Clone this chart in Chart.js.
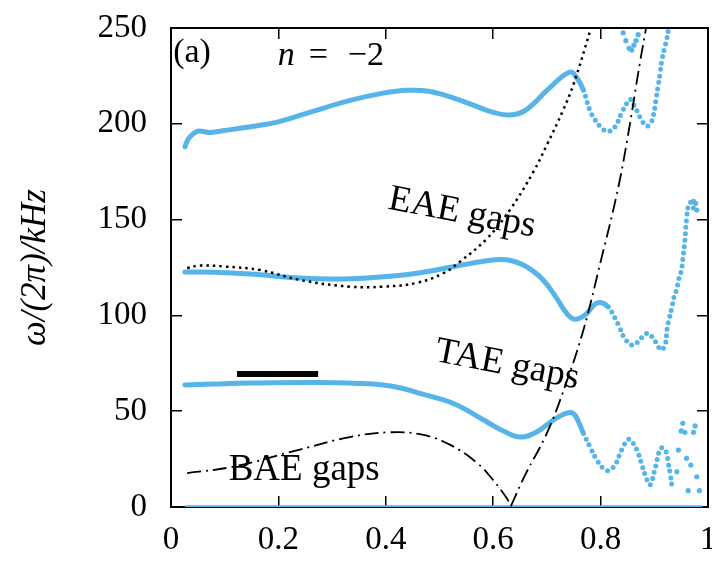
<!DOCTYPE html>
<html>
<head>
<meta charset="utf-8">
<script src="https://cdn.jsdelivr.net/npm/chart.js@4.4.1/dist/chart.umd.min.js"></script>
<style>
  html, body { margin: 0; padding: 0; background: #fff; }
  #wrap { width: 712px; height: 563px; }
</style>
</head>
<body>
<div id="wrap"><canvas id="chart" width="712" height="563"></canvas></div>
<script>
// axis ranges / ticks
const xTicks = [0, 0.2, 0.4, 0.6, 0.8, 1];
const yTicks = [0, 50, 100, 150, 200, 250];

// blue branches, [r, f(kHz)]
const upperBranch = [[0.026,188],[0.033,192.5],[0.048,196],[0.06,196],[0.073,195.5],[0.1,196.5],[0.16,199],[0.2,201],
  [0.27,207],[0.33,212],[0.395,216],[0.44,217.5],[0.48,217],[0.52,214],[0.57,209],[0.60,206],[0.631,204.6],[0.66,207],
  [0.706,219],[0.743,227],[0.758,223],[0.768,217.6],[0.78,207],[0.79,202],[0.802,197.8],[0.814,196],[0.827,198.5],
  [0.839,205.6],[0.849,210.8],[0.855,212.8],[0.862,209.8],[0.870,205.5],[0.876,202],[0.886,198.8],[0.892,200],
  [0.897,202.8],[0.903,212.4],[0.907,219.7],[0.911,226.7],[0.914,233],[0.919,239.4],[0.923,244],[0.927,250],[0.93,254]];
const upperTopDots = [[0.842,247.5],[0.847,243.4],[0.853,239.4],[0.858,238.5],[0.862,241],[0.866,243.4],[0.870,246.5]];

const middleBranch = [[0.026,122.6],[0.08,122.5],[0.147,121.6],[0.24,119.5],[0.30,119],[0.365,119.5],[0.458,122],
  [0.526,125.4],[0.588,128.5],[0.625,129],[0.662,125.4],[0.693,118.5],[0.718,109],[0.737,101],[0.752,98],[0.771,100.2],
  [0.79,106],[0.802,106.6],[0.814,104.5],[0.827,98.5],[0.836,93.3],[0.845,88],[0.858,84.5],[0.870,86.3],[0.881,89.8],
  [0.889,90.6],[0.898,88],[0.906,84.5],[0.912,82],[0.920,84.5],[0.924,93.3],[0.928,98.5],[0.933,104.5],[0.937,109.8],
  [0.942,114],[0.945,118.5],[0.950,122.8],[0.953,129],[0.957,139.4],[0.960,150],[0.964,158],[0.968,159],[0.973,156],[0.978,153]];
const middleTopDots = [[0.973,159.5],[0.977,158.5],[0.979,155]];

const lowerBranch = [[0.026,63.7],[0.08,64.2],[0.147,64.7],[0.27,65],[0.35,64.5],[0.395,63.7],[0.43,62],[0.464,59.3],
  [0.526,54],[0.588,44.5],[0.62,39.5],[0.65,36.5],[0.68,39],[0.712,45.4],[0.737,49],[0.749,48.9],[0.758,45],[0.768,38.5],
  [0.780,31.5],[0.793,24.5],[0.805,20.2],[0.814,19],[0.827,22],[0.839,29.7],[0.852,35.3],[0.861,33.2],[0.870,28],[0.878,21],
  [0.883,16.7],[0.888,13.2],[0.892,11.5],[0.896,14],[0.900,18.4],[0.904,22.8],[0.907,27],[0.912,30.6],[0.917,30.6],
  [0.923,28],[0.926,23],[0.930,16.7],[0.934,10.3],[0.939,9.7]];
const lowerDots = [[0.942,18.4],[0.945,29.7],[0.950,39.7],[0.953,43.7],[0.957,39],[0.960,25.4],[0.963,8.5],
  [0.968,21.9],[0.973,39],[0.976,42.3],[0.979,15.8],[0.984,8.5]];

const zeroBranch = [[0.026,0],[0.99,0]];

// gap boundaries
const eaeBoundary = [[0.03,124.7],[0.054,126],[0.1,125.5],[0.166,123.7],[0.24,118.5],[0.333,115],[0.395,115],
  [0.458,117],[0.507,122],[0.538,128],[0.588,140],[0.631,155],[0.675,175],[0.70,189],[0.73,207],[0.75,221],[0.78,248],[0.785,253]];
const baeBoundary = [[0.03,17.7],[0.115,21],[0.24,30],[0.333,36.5],[0.408,39],[0.47,37.6],[0.52,32.4],[0.57,23],
  [0.60,14],[0.625,4.7],[0.633,0.5]];
const taeBoundary = [[0.633,0.5],[0.66,17],[0.70,38.5],[0.735,64],[0.768,92.4],[0.80,128],[0.83,163],[0.849,190.7],
  [0.873,231.5],[0.886,252]];

const markerBar = [[0.123,69.4],[0.274,69.4]];

const BLUE = '#56b4e9';
const SERIF = '"Liberation Serif", "DejaVu Serif", serif';

const pts = arr => arr.map(p => ({x: p[0], y: p[1]}));

function blueLine(arr, dotFrom) {
  return {
    data: pts(arr), borderColor: BLUE, borderWidth: 5, pointRadius: 0,
    tension: 0.4, borderCapStyle: 'round', borderJoinStyle: 'round', clip: 0,
    segment: { borderDash: ctx => ctx.p0.parsed.x >= dotFrom ? [0, 6.5] : undefined }
  };
}
function blueDots(arr) {
  return { data: pts(arr), showLine: false, pointRadius: 2.6, pointBorderWidth: 0,
    pointBackgroundColor: BLUE, borderColor: BLUE };
}
function blackLine(arr, dash, width) {
  return { data: pts(arr), borderColor: '#000', borderWidth: width, borderDash: dash, pointRadius: 0,
    tension: 0.4, clip: 0 };
}

const labelsPlugin = {
  id: 'labels',
  afterDatasetsDraw(chart) {
    const {ctx, scales: {x, y}} = chart;
    const P = (a, b) => [x.getPixelForValue(a), y.getPixelForValue(b)];
    ctx.save();
    ctx.fillStyle = '#000';
    ctx.textBaseline = 'alphabetic';
    ctx.textAlign = 'left';
    ctx.font = '34px ' + SERIF;
    let [ax, ay] = P(0.004, 232);
    ctx.fillText('(a)', ax, ay);

    // n = −2, spaced like the TeX original
    let [nx, ny] = P(0.199, 230.7);
    ctx.font = 'italic 34px ' + SERIF;
    ctx.fillText('n', nx, ny);
    ctx.font = '34px ' + SERIF;
    ctx.fillText('=', nx + 31, ny);
    ctx.fillText('\u22122', nx + 70, ny);

    ctx.font = '37px ' + SERIF;
    const rot = (txt, a, b, deg) => {
      const [cx, cy] = P(a, b);
      ctx.save();
      ctx.translate(cx, cy);
      ctx.rotate(deg * Math.PI / 180);
      ctx.textAlign = 'center';
      ctx.textBaseline = 'middle';
      ctx.fillText(txt, 0, 0);
      ctx.restore();
    };
    rot('EAE gaps', 0.542, 153.4, 11);
    rot('TAE gaps', 0.626, 74.1, 11);
    ctx.textAlign = 'center';
    let [bx, by] = P(0.248, 14.1);
    ctx.fillText('BAE gaps', bx, by);
    ctx.restore();
  }
};

const tickGrid = { drawOnChartArea: false, drawTicks: true, tickLength: -11, color: '#000', lineWidth: 1.5 };
const frame = { display: true, color: '#000', width: 2 };

new Chart(document.getElementById('chart'), {
  type: 'line',
  data: {
    datasets: [
      blackLine(markerBar, [], 6),
      blackLine(eaeBoundary, [2.5, 4], 2.5),
      blackLine(baeBoundary, [14, 5, 2, 5], 1.8),
      blackLine(taeBoundary, [14, 5, 2, 5], 1.8),
      blueDots(upperTopDots),
      blueDots(middleTopDots),
      blueDots(lowerDots),
      blueLine(upperBranch, 0.76),
      blueLine(middleBranch, 0.81),
      blueLine(lowerBranch, 0.76),
      { data: pts(zeroBranch), borderColor: BLUE, borderWidth: 3.5, pointRadius: 0 }
    ]
  },
  options: {
    responsive: false,
    animation: false,
    devicePixelRatio: 1,
    layout: { padding: { top: 28, right: 4, left: 0, bottom: 0 } },
    plugins: { legend: { display: false }, tooltip: { enabled: false } },
    scales: {
      x: {
        type: 'linear', position: 'bottom', min: xTicks[0], max: xTicks[xTicks.length - 1],
        afterBuildTicks: s => { s.ticks = xTicks.map(v => ({value: v})); },
        ticks: { color: '#000', font: { family: SERIF, size: 33 }, padding: 25, maxRotation: 0, autoSkip: false,
          callback: v => String(Math.round(v * 10) / 10) },
        grid: tickGrid, border: frame,
        afterFit: s => { s.height = 56; s.paddingLeft = 0; s.paddingRight = 0; }
      },
      x2: {
        type: 'linear', position: 'top', min: xTicks[0], max: xTicks[xTicks.length - 1],
        afterBuildTicks: s => { s.ticks = xTicks.map(v => ({value: v})); },
        ticks: { display: false }, grid: tickGrid, border: frame,
        afterFit: s => { s.height = 0; s.paddingLeft = 0; s.paddingRight = 0; }
      },
      y: {
        type: 'linear', position: 'left', min: yTicks[0], max: yTicks[yTicks.length - 1],
        afterBuildTicks: s => { s.ticks = yTicks.map(v => ({value: v})); },
        ticks: { color: '#000', font: { family: SERIF, size: 33 }, padding: 35 },
        grid: tickGrid, border: frame,
        title: { display: true, text: '\u03c9/(2\u03c0)/kHz', color: '#000',
          font: { family: SERIF, size: 35, style: 'italic' }, padding: { top: 15, bottom: 0 } },
        afterFit: s => { s.width = 171; s.paddingTop = 0; s.paddingBottom = 0; }
      },
      y2: {
        type: 'linear', position: 'right', min: yTicks[0], max: yTicks[yTicks.length - 1],
        afterBuildTicks: s => { s.ticks = yTicks.map(v => ({value: v})); },
        ticks: { display: false }, grid: tickGrid, border: frame,
        afterFit: s => { s.width = 0; s.paddingTop = 0; s.paddingBottom = 0; }
      }
    }
  },
  plugins: [labelsPlugin]
});
</script>
</body>
</html>
